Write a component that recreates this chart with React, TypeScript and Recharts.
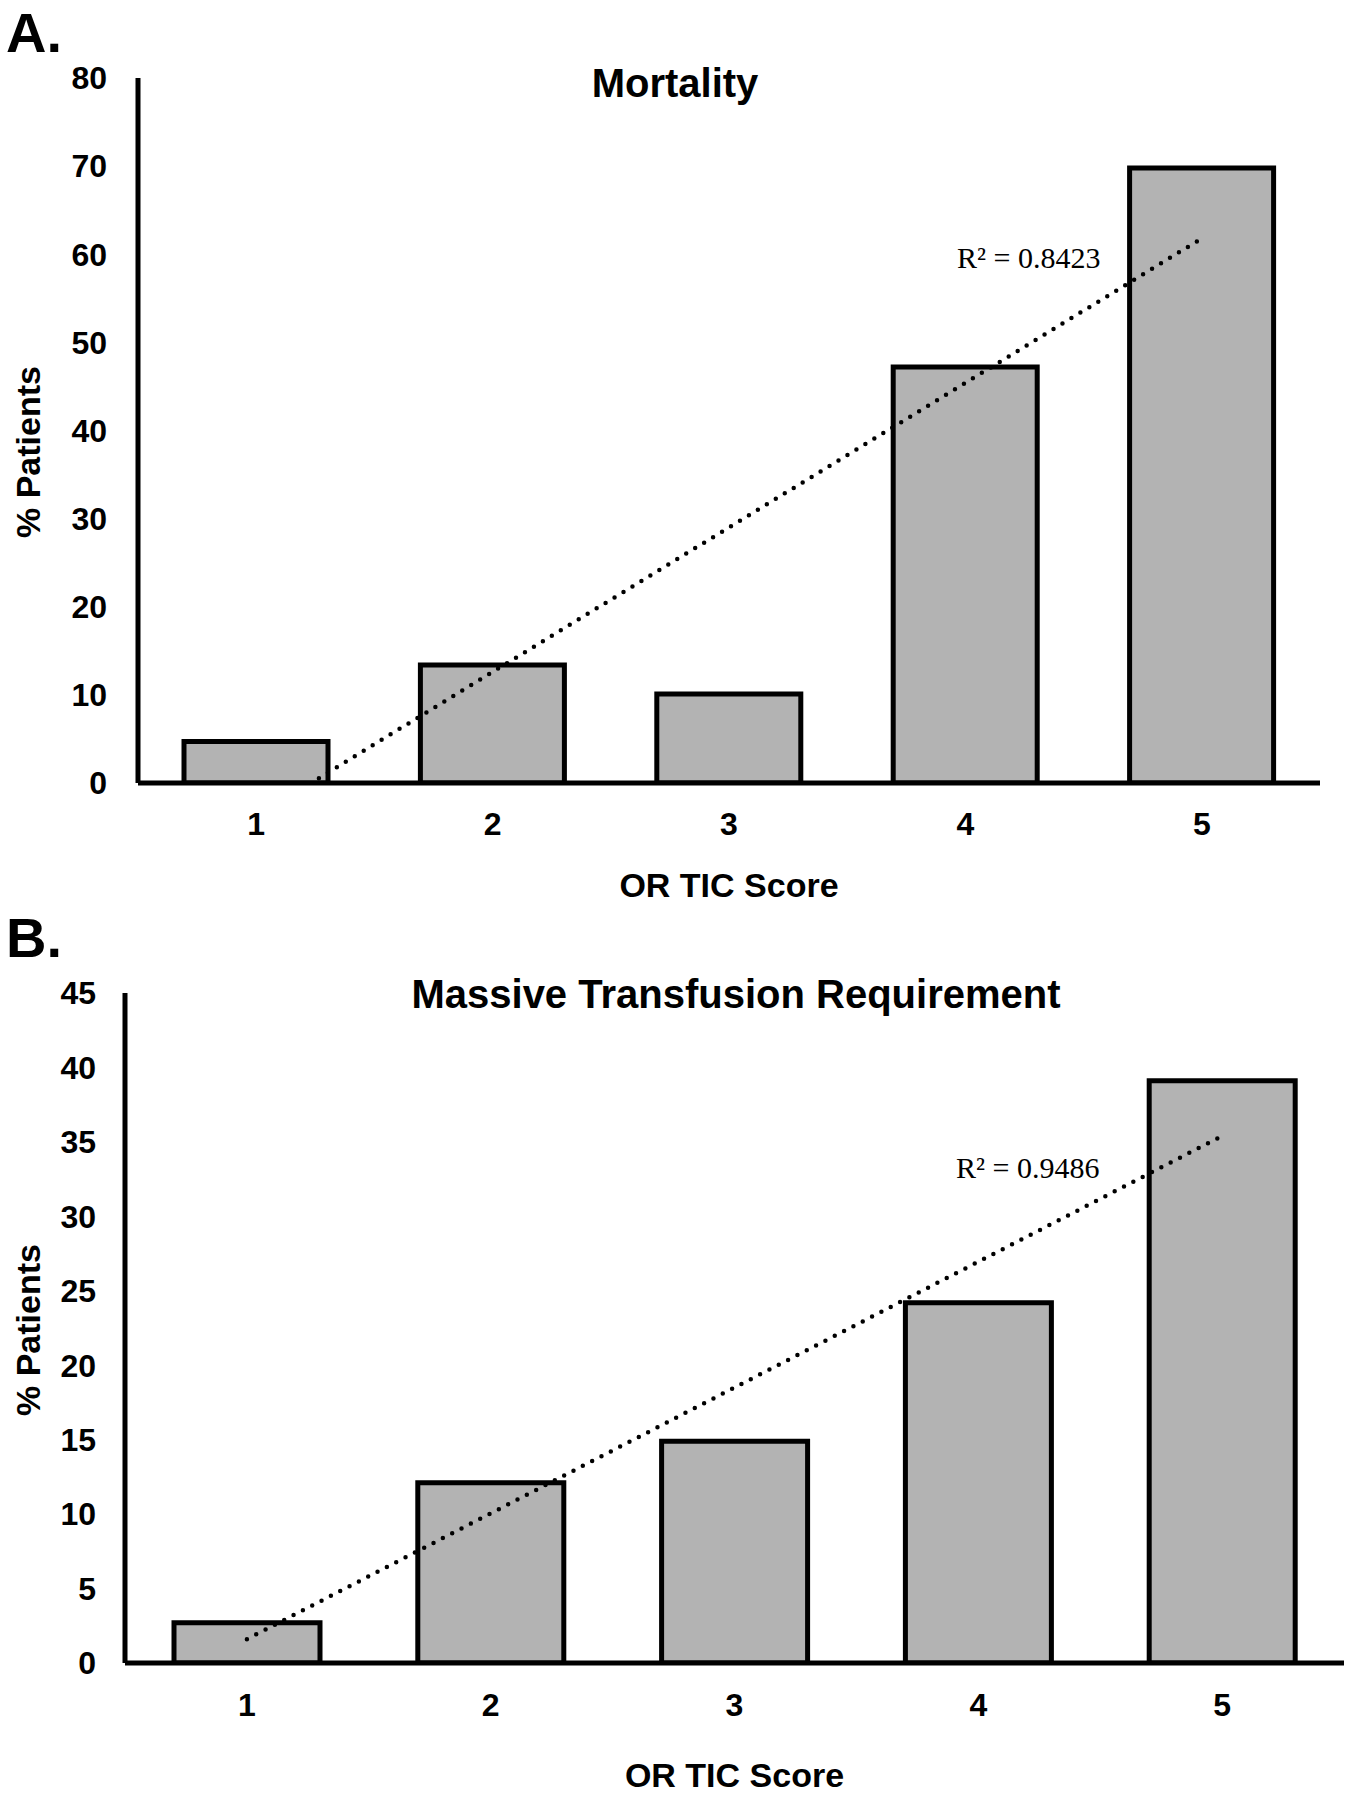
import React from "react";
import { Bar, ComposedChart, Label, Line, XAxis, YAxis } from "recharts";

const SCORES = ["1", "2", "3", "4", "5"];

// A. Mortality (% patients)
const MORTALITY = [4.7, 13.4, 10.1, 47.2, 69.8];
// linear trendline, read at score 1 and 5 (the start is clipped by the axis)
const MORTALITY_TREND = [-3.8, null, null, null, 61.8];
const MORTALITY_TICKS = [0, 10, 20, 30, 40, 50, 60, 70, 80];

// B. Massive transfusion requirement (% patients)
const TRANSFUSION = [2.7, 12.1, 14.9, 24.2, 39.1];
const TRANSFUSION_TREND = [1.6, null, null, null, 35.4];
const TRANSFUSION_TICKS = [0, 5, 10, 15, 20, 25, 30, 35, 40, 45];

const SANS = "'Liberation Sans', Arial, sans-serif";
const SERIF = "'Liberation Serif', 'Times New Roman', serif";
const BAR_FILL = "#b3b3b3";
const INK = "#000";

const tickStyle = { fontSize: 32, fontWeight: 700, fill: INK, fontFamily: SANS };

type PanelProps = {
  letter: string;
  title: string;
  titleX: number;
  titleBase: number;
  r2: string;
  r2X: number;
  r2Base: number;
  values: number[];
  trend: (number | null)[];
  ticks: number[];
  top: number;
  height: number;
  margin: { top: number; right: number; left: number; bottom: number };
  yWidth: number;
  xHeight: number;
  barSize: number;
  yTickMargin: number;
  xTickMargin: number;
  yLabelY: number;
  letterBase: number;
};

function Panel(p: PanelProps) {
  const data = SCORES.map((s, i) => ({
    score: s,
    value: p.values[i],
    trend: p.trend[i],
  }));
  const max = p.ticks[p.ticks.length - 1];
  return (
    <>
      <div
        style={{
          position: "absolute",
          left: 0,
          top: p.top,
          width: 1351,
          height: p.height,
        }}
      >
        <ComposedChart width={1351} height={p.height} data={data} margin={p.margin}>
          <XAxis
            dataKey="score"
            type="category"
            interval={0}
            height={p.xHeight}
            tick={tickStyle}
            tickLine={false}
            tickSize={0}
            tickMargin={p.xTickMargin}
            axisLine={{ stroke: INK, strokeWidth: 5 }}
          >
            <Label
              value="OR TIC Score"
              position="insideBottom"
              offset={6}
              style={{ fontSize: 34, fontWeight: 700, fill: INK, fontFamily: SANS }}
            />
          </XAxis>
          <YAxis
            type="number"
            domain={[0, max]}
            ticks={p.ticks}
            interval={0}
            allowDataOverflow
            width={p.yWidth}
            tick={tickStyle}
            tickLine={false}
            tickSize={0}
            tickMargin={p.yTickMargin}
            axisLine={{ stroke: INK, strokeWidth: 5 }}
          />
          <Bar
            dataKey="value"
            fill={BAR_FILL}
            stroke={INK}
            strokeWidth={5}
            barSize={p.barSize}
            isAnimationActive={false}
          />
          <Line
            dataKey="trend"
            type="linear"
            stroke={INK}
            strokeWidth={4.5}
            strokeDasharray="0 10.5"
            strokeLinecap="round"
            dot={false}
            activeDot={false}
            connectNulls
            isAnimationActive={false}
          />
        </ComposedChart>
      </div>
      <div
        style={{
          position: "absolute",
          left: 6,
          top: p.letterBase - 47,
          fontSize: 56,
          lineHeight: "56px",
          fontWeight: 700,
          fontFamily: SANS,
        }}
      >
        {p.letter}
      </div>
      <div
        style={{
          position: "absolute",
          left: p.titleX - 400,
          width: 800,
          top: p.titleBase - 34,
          textAlign: "center",
          fontSize: 40,
          lineHeight: "40px",
          fontWeight: 700,
          fontFamily: SANS,
          whiteSpace: "nowrap",
        }}
      >
        {p.title}
      </div>
      <div
        style={{
          position: "absolute",
          left: p.r2X,
          top: p.r2Base - 25,
          fontSize: 30,
          lineHeight: "30px",
          fontFamily: SERIF,
          whiteSpace: "nowrap",
        }}
      >
        {p.r2}
      </div>
      <div
        style={{
          position: "absolute",
          left: 28,
          top: p.yLabelY,
          width: 300,
          textAlign: "center",
          fontSize: 34,
          lineHeight: "34px",
          fontWeight: 700,
          fontFamily: SANS,
          whiteSpace: "nowrap",
          transform: "translate(-50%, -50%) rotate(-90deg)",
        }}
      >
        % Patients
      </div>
    </>
  );
}

export default function App() {
  return (
    <div
      style={{
        position: "absolute",
        left: 0,
        top: 0,
        width: 1351,
        height: 1800,
        background: "#fff",
        overflow: "hidden",
      }}
    >
      <Panel
        letter="A."
        title="Mortality"
        titleX={675}
        titleBase={97}
        r2="R² = 0.8423"
        r2X={957}
        r2Base={268}
        values={MORTALITY}
        trend={MORTALITY_TREND}
        ticks={MORTALITY_TICKS}
        top={0}
        height={940}
        margin={{ top: 78, right: 31, left: 0, bottom: 37 }}
        yWidth={138}
        xHeight={120}
        barSize={144}
        yTickMargin={31}
        xTickMargin={29}
        yLabelY={452}
        letterBase={52}
      />
      <Panel
        letter="B."
        title="Massive Transfusion Requirement"
        titleX={736}
        titleBase={1008}
        r2="R² = 0.9486"
        r2X={956}
        r2Base={1178}
        values={TRANSFUSION}
        trend={TRANSFUSION_TREND}
        ticks={TRANSFUSION_TICKS}
        top={920}
        height={880}
        margin={{ top: 73, right: 7, left: 0, bottom: 7 }}
        yWidth={125}
        xHeight={130}
        barSize={146}
        yTickMargin={29}
        xTickMargin={30}
        yLabelY={1330}
        letterBase={957}
      />
    </div>
  );
}
